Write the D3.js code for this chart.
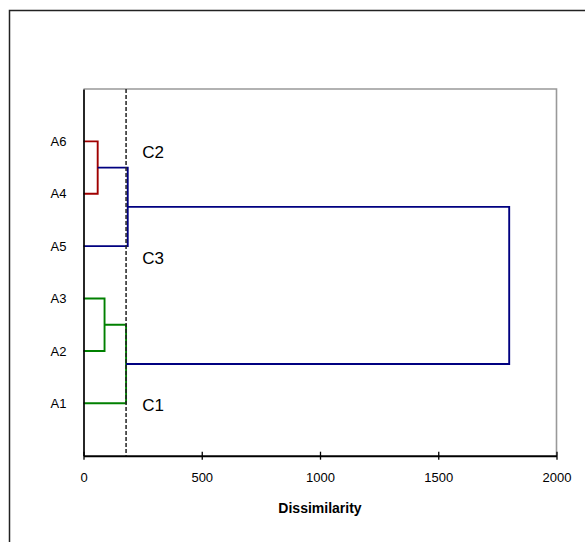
<!DOCTYPE html>
<html>
<head>
<meta charset="utf-8">
<script src="https://cdn.jsdelivr.net/npm/d3@7"></script>
<style>
	body { margin: 0; background: #fff; }
	svg { display: block; font-family: "Liberation Sans", Arial, sans-serif; }
</style>
</head>
<body>
<div id="chart"></div>
<script>
// Folhas (de baixo para cima)
var leaves = ["A1", "A2", "A3", "A5", "A4", "A6"];
// Fusões: filhos (índices de nós), altura e cor
var mergeLeft = [4, 1, 6, 0, 9];
var mergeRight = [5, 2, 3, 7, 8];
var mergeHeight = [60, 89, 187, 180, 1800];
var mergeColor = ["#a00000", "#008000", "#000080", "#008000", "#000080"];
// Corte e clusters
var cutoff = 180;
var clusterNames = ["C2", "C3", "C1"];
var clusterY = [5.8, 3.78, 0.97];
var clusterX = 248;
var xTicks = [0, 500, 1000, 1500, 2000];

var W = 585, H = 542;
var margin = {top: 89, left: 83.5, right: 28.5, bottom: 86.3};
var width = W - margin.left - margin.right;
var height = H - margin.top - margin.bottom;

var svg = d3.select("#chart").append("svg")
	.attr("width", W)
	.attr("height", H);

//Moldura externa
svg.append("rect")
	.attr("x", 9.5).attr("y", 10.5)
	.attr("width", 600).attr("height", 600)
	.attr("fill", "none").attr("stroke", "#222").attr("stroke-width", 1.5);

var g = svg.append("g")
	.attr("transform", "translate(" + margin.left + "," + margin.top + ")");

var x = d3.scaleLinear().domain([0, 2000]).range([0, width]);
var y = d3.scaleLinear().domain([0, 7]).range([height, 0]);

//Moldura do gráfico
g.append("path")
	.attr("d", "M0,0H" + width + "V" + height)
	.attr("fill", "none").attr("stroke", "#999").attr("stroke-width", 1.6);

//Nós
var nodes = leaves.map(function(d, i) { return {h: 0, pos: i + 1}; });
mergeLeft.forEach(function(l, i) {
	var a = nodes[l], b = nodes[mergeRight[i]];
	nodes.push({h: mergeHeight[i], pos: (a.pos + b.pos) / 2});
});

//Linhas do dendrograma
mergeLeft.forEach(function(l, i) {
	var a = nodes[l], b = nodes[mergeRight[i]], h = mergeHeight[i];
	var d = "M" + x(a.h) + "," + y(a.pos) + "H" + x(h) + "V" + y(b.pos) + "H" + x(b.h);
	g.append("path")
		.attr("d", d)
		.attr("fill", "none")
		.attr("stroke", mergeColor[i])
		.attr("stroke-width", 1.9);
});

//Linha de corte
g.append("line")
	.attr("x1", x(cutoff)).attr("x2", x(cutoff))
	.attr("y1", 0).attr("y2", height)
	.attr("stroke", "#222").attr("stroke-width", 1.5)
	.attr("stroke-dasharray", "4,2");

//Rótulos dos clusters
g.selectAll(".cluster")
	.data(clusterNames)
	.enter()
	.append("text")
	.attr("class", "cluster")
	.attr("x", x(clusterX))
	.attr("y", function(d, i) { return y(clusterY[i]); })
	.attr("dy", "0.36em")
	.attr("font-size", 17)
	.text(function(d) { return d; });

//Eixos
var ax = g.append("g")
	.attr("transform", "translate(0," + height + ")")
	.call(d3.axisBottom(x).tickValues(xTicks).tickFormat(d3.format("d"))
		.tickSize(4).tickPadding(13).tickSizeOuter(0));
ax.select(".domain").attr("stroke", "#000").attr("stroke-width", 2);
ax.selectAll(".tick line").attr("y1", -4).attr("stroke-width", 1.3);
ax.selectAll("text").attr("font-size", 13).attr("font-family", "Liberation Sans, Arial, sans-serif").attr("fill", "#000");

var ay = g.append("g")
	.call(d3.axisLeft(y).tickValues(leaves.map(function(d, i) { return i + 1; }))
		.tickFormat(function(d) { return leaves[d - 1]; })
		.tickSize(0).tickPadding(17));
ay.select(".domain").attr("stroke", "#000").attr("stroke-width", 1.7);
ay.selectAll("text").attr("font-size", 13).attr("font-family", "Liberation Sans, Arial, sans-serif").attr("fill", "#000");

//Título do eixo
g.append("text")
	.attr("x", width / 2)
	.attr("y", height + 57)
	.attr("text-anchor", "middle")
	.attr("font-size", 14)
	.attr("font-weight", "bold")
	.text("Dissimilarity");
</script>
</body>
</html>
